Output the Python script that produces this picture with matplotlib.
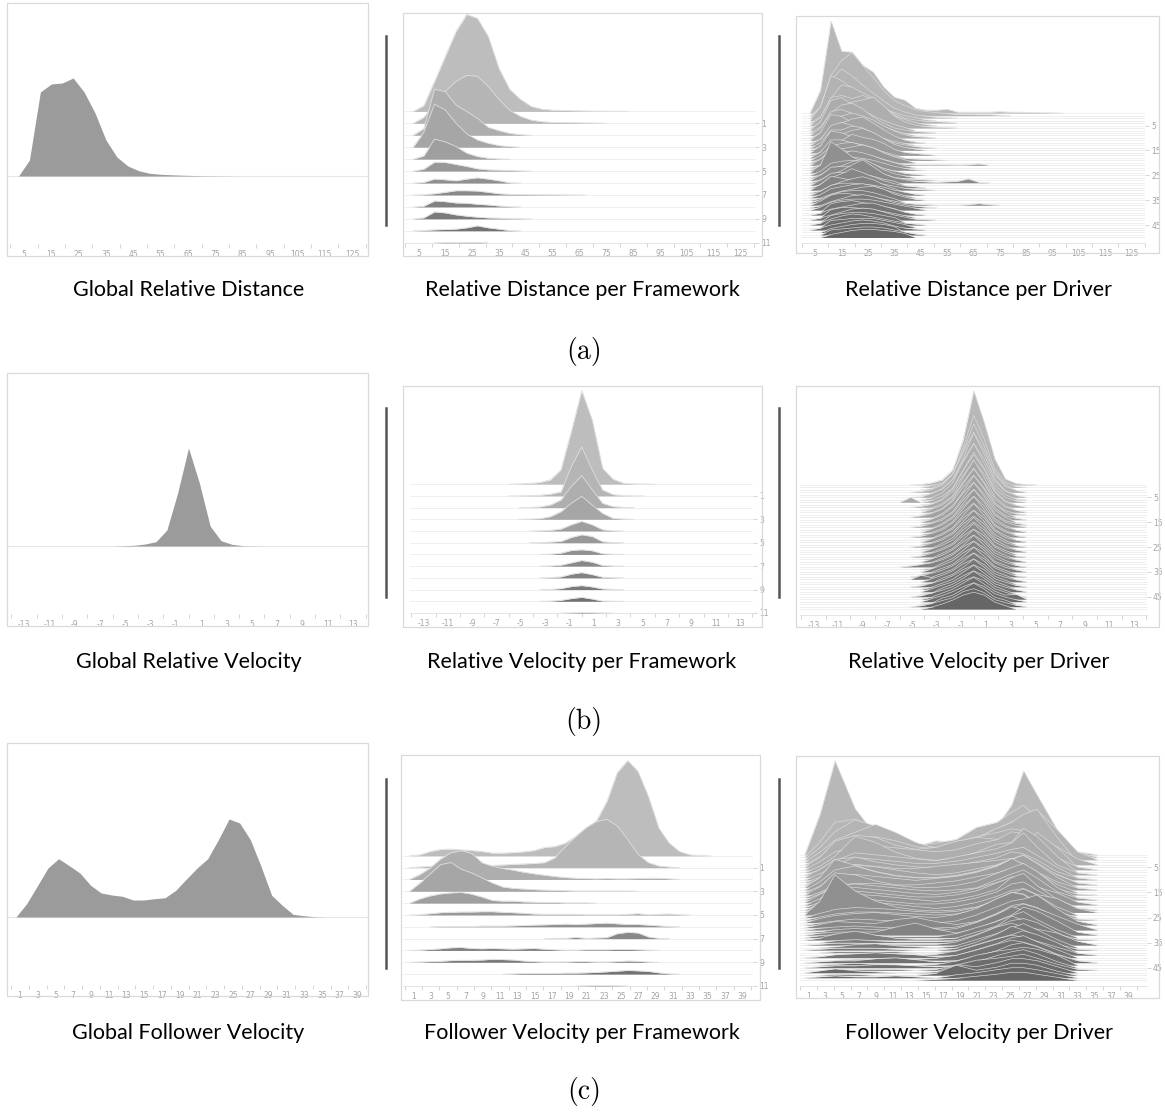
import numpy as np
import matplotlib.pyplot as plt
from matplotlib.patches import Rectangle
from matplotlib.lines import Line2D

# ---------------- data (densities, in image pixels) ----------------
dist_x = [3, 7, 11, 15, 19, 23, 27, 31, 35, 39, 43, 47, 51, 55, 59, 63, 67, 71, 75, 79, 83, 87, 91, 95, 99]
vel_x = [-6.0, -5.14, -4.29, -3.43, -2.57, -1.71, -0.86, 0.0, 0.86, 1.71, 2.57, 3.43, 4.29, 5.14, 6.0]
fol_x = [0.55, 1.75, 2.95, 4.15, 5.35, 6.55, 7.75, 8.95, 10.15, 11.35, 12.55, 13.75, 14.95, 16.15, 17.35,
         18.55, 19.75, 20.95, 22.15, 23.35, 24.55, 25.75, 26.95, 28.15, 29.35, 30.55, 31.75, 32.95, 34.15, 35.35]
fol_drv_x = [0.55, 2.35, 4.15, 6.55, 8.95, 11.35, 13.75, 16.15, 18.55, 20.95, 23.35, 25.15, 26.55, 28.15,
             30.55, 32.95, 35.35]

glob_dist = [0, 16, 84, 92, 93, 98, 84, 63, 36, 19, 10, 5.3, 2.7, 1.7, 1.2, 0.8, 0.5, 0.3, 0.2, 0.1, 0]
glob_vel = [0, 0.3, 0.7, 2, 4.3, 16, 53, 98, 63, 20, 5.3, 1.7, 0.3, 0.1, 0]
glob_fol = [0, 13.3, 31, 49, 58.3, 51.3, 44, 31.7, 24, 22, 20.7, 17, 17, 18.3, 19.3, 26.7, 38, 49, 58.3,
            77.3, 98, 94, 77.3, 50.7, 21.7, 11.7, 2.7, 1.3, 0.3, 0]

fw_dist = [
    [0, 5.7, 30, 55, 80, 97, 93, 75, 43, 22, 12, 5, 2.3, 1.3, 1, 0.7, 0.5, 0.3, 0.2, 0.1, 0],
    [0, 6, 20, 32, 42, 48, 47, 37, 24, 13, 7, 3.3, 1.7, 1, 0.8, 0.7, 0.5, 0.3, 0],
    [0, 6.7, 46, 43.7, 30.3, 23.7, 17, 8, 4.7, 2, 0.7, 0],
    [0, 15, 43, 37.3, 24, 13.3, 7.3, 4, 1.7, 0.7, 0],
    [0, 3.3, 20, 17.3, 12.7, 6, 2.7, 1, 0.3, 0],
    [0, 2, 9, 8.7, 6.7, 4.7, 2.3, 1.3, 1, 0.7, 0.3, 0],
    [0, 0.7, 4, 3.3, 2.3, 4, 5.3, 4, 2.3, 0.3, 0],
    [0, 0.3, 1.3, 2.7, 4.3, 4.3, 4, 2.7, 1.3, 0.7, 0.5, 0.4, 0.3, 0.3, 0.2, 0.1, 0],
    [0, 0.7, 6, 5.3, 4, 3.7, 2.7, 2, 1, 0.3, 0],
    [0, 1, 7, 6, 4, 2.7, 1.7, 1, 0.7, 0.3, 0.2, 0],
    [0, 0.3, 1, 1.3, 1.7, 3, 5, 3, 1.7, 0.3, 0],
    [0, 0, 0, 0.3, 0.2, 0.3, 0.3, 0],
]

fw_vel = [
    [0, 0.3, 0.7, 1.7, 4.3, 14.3, 52.7, 93.7, 64.3, 16, 5, 1, 0.3, 0.1, 0],
    [0, 0.1, 0.3, 0.7, 1.7, 4, 29, 49, 26, 6, 1.3, 0.3, 0.1, 0, 0],
    [0, 0, 0.3, 0.7, 2.7, 7.7, 21, 32, 18, 4.3, 1, 0.3, 0, 0, 0],
    [0, 0, 0.3, 0.7, 2.7, 7.7, 16, 23, 14.3, 6, 1, 0.3, 0, 0, 0],
    [0, 0, 0, 0.3, 0.7, 2, 6.3, 9.7, 6.3, 1.3, 0.3, 0, 0, 0, 0],
    [0, 0, 0, 0.2, 0.7, 1.3, 5.3, 8, 6.3, 1, 0.3, 0, 0, 0, 0],
    [0, 0, 0, 0, 0.3, 1.3, 4, 4.7, 3.7, 0.7, 0.2, 0, 0, 0, 0],
    [0, 0, 0, 0, 0.3, 1, 3.3, 5.7, 4, 0.7, 0.2, 0, 0, 0, 0],
    [0, 0, 0, 0, 0.3, 1, 3.7, 5.3, 3.3, 0.7, 0.2, 0, 0, 0, 0],
    [0, 0, 0, 0, 0.2, 1, 3, 4, 2.7, 0.7, 0.2, 0, 0, 0, 0],
    [0, 0, 0, 0, 0.2, 1, 2.7, 4, 2.3, 0.3, 0.1, 0, 0, 0, 0],
    [0, 0, 0, 0, 0, 0, 0.2, 0.4, 0.3, 0.1, 0, 0, 0, 0, 0],
]

fw_fol = [
    [0, 1, 4.3, 6.3, 6.7, 6, 5.3, 4.3, 2.7, 2.7, 3.3, 4, 5.3, 8.3, 9.3, 12.7, 19.3, 27.7, 35, 54.3, 83.3,
     95.3, 84.3, 59.3, 27.7, 12.7, 4.3, 1, 0.3, 0],
    [0, 0.7, 1.3, 1.7, 2, 2, 2, 2, 2.3, 2.7, 3.3, 3.7, 4.3, 5, 10, 20.7, 31, 40, 46, 48.3, 41.7, 28.3, 13.3,
     5, 1.7, 0.7, 0],
    [0, 5, 11.7, 20.7, 26.7, 28.7, 26, 16.7, 13.3, 11, 9.3, 7.3, 5.7, 4.3, 3, 2, 1.3, 1, 0.7, 1, 0.7, 0.7,
     1, 1.3, 1.3, 0.7, 0],
    [0, 8.3, 17.3, 26.7, 28.7, 22, 18.3, 13.3, 8.3, 4.3, 3, 2.3, 1.7, 1.3, 1, 0.7, 0.3, 0.3, 0.3, 0.3, 0.3,
     0.3, 0],
    [0, 4.3, 7.3, 9.3, 10.3, 10.7, 9, 6, 2.7, 2, 2, 1.3, 1, 0.7, 0.7, 0.3, 0.3, 0.3, 0],
    [0, 0.3, 1.3, 2.3, 2.7, 3, 3, 3.3, 3.3, 2.7, 2.3, 1.7, 1, 0.7, 0.7, 0.7, 0.7, 0.3, 0.3, 0.3, 0.3, 0.7,
     1.3, 0.3, 0.7, 1, 0.3, 0],
    [0, 0, 0, 0.3, 0.3, 0.3, 0.3, 0.7, 0.7, 0.7, 1, 1.3, 1.7, 2, 2.3, 2.7, 2.3, 2.7, 3.3, 3.7, 3, 2.3, 2.3,
     1.7, 1, 0.3, 0],
    [0, 0, 0, 0, 0, 0, 0, 0, 0, 0, 0, 0, 0, 0, 0.3, 0.3, 1.3, 0.3, 0.7, 1, 5, 6.3, 5.7, 1.7, 0.3, 0],
    [0, 0.3, 1, 1.7, 2.7, 3, 2, 1.7, 2, 1.7, 1.3, 1.7, 2, 1.3, 0.7, 0.3, 0.3, 0.7, 0.7, 0.7, 1, 1, 0.7,
     0.3, 0],
    [0, 0.3, 0.7, 1, 1.7, 2, 2, 2.3, 3, 2.7, 2.3, 1.3, 0.7, 0.3, 0.3, 0.3, 0.7, 0.7, 0.3, 0.3, 0.7, 1.3, 1,
     0.3, 0],
    [0, 0, 0, 0, 0, 0, 0, 0, 0, 0, 0.3, 0.7, 0.7, 0.7, 0.7, 1, 1, 1.3, 1.7, 2.3, 3, 3.7, 3.3, 2.7, 1.3,
     0.3, 0],
    [0, 0, 0, 0, 0, 0, 0, 0, 0, 0, 0, 0, 0, 0, 0, 0, 0, 0.2, 0.3, 0.3, 0.2, 0],
]

drv_dist = [
    [0, 23, 92, 62, 61, 48, 41, 26, 16, 13, 5, 3, 3, 4, 1, 1, 1, 1, 1.5, 1, 1, 0.7, 0.5, 0.3, 0],
    [0, 8, 40, 55, 63, 50, 38, 25, 15, 10, 6, 4, 3, 2, 1.5, 1.5, 1, 1, 0.5, 0],
    [0, 10, 38, 49, 42, 33, 25, 17, 10, 6, 3, 2, 1, 0.5, 0],
    [0, 14, 45, 40, 32, 25, 18, 12, 8, 5, 3, 1, 0],
    [0, 6, 25, 38, 36, 30, 25, 16, 9, 5, 3, 2, 1.5, 1, 0],
    [0, 8, 28, 30, 27, 30, 26, 18, 10, 6, 3, 1, 0],
    [0, 5, 18, 24, 26, 28, 31, 22, 12, 6, 3, 1.5, 1, 0.5, 0],
    [0, 9, 30, 33, 26, 20, 15, 10, 6, 3, 0],
    [0, 6, 20, 28, 30, 24, 16, 10, 5, 3, 1.5, 1, 0],
    [0, 7, 24, 26, 22, 18, 14, 9, 5, 2, 0],
    [0, 5, 16, 22, 25, 22, 18, 12, 7, 3, 1.5, 1, 0],
    [0, 8, 26, 24, 18, 14, 10, 6, 3, 0],
    [0, 4, 14, 20, 24, 26, 20, 13, 7, 3, 1, 0],
    [0, 6, 20, 23, 20, 15, 11, 7, 4, 2, 0],
    [0, 5, 18, 18, 22, 20, 15, 9, 5, 3, 1.5, 0.5, 0],
    [0, 4, 12, 16, 20, 22, 18, 12, 6, 3, 1.5, 0],
    [0, 7, 22, 20, 16, 12, 9, 6, 3, 0],
    [0, 3, 10, 15, 21, 18, 16, 12, 6, 3, 2, 1, 0],
    [0, 6, 18, 18, 15, 13, 10, 6, 3, 0],
    [0, 5, 14, 17, 18, 15, 11, 7, 4, 2, 1.5, 1, 0.5, 0],
    [0, 4, 12, 14, 16, 18, 15, 10, 6, 3, 0],
    [0, 6, 16, 15, 13, 11, 9, 6, 3, 1, 0.5, 0.5, 0.5, 0.5, 0.3, 0.5, 1.5, 0],
    [0, 3, 10, 14, 17, 15, 12, 8, 5, 2, 0],
    [0, 5, 14, 15, 13, 12, 10, 7, 4, 2, 0.5, 0],
    [0, 8, 31, 24, 16, 11, 7, 4, 2, 0],
    [0, 4, 12, 14, 15, 14, 11, 7, 4, 2, 1, 0],
    [0, 3, 9, 12, 16, 19, 14, 8, 4, 2, 0],
    [0, 5, 13, 14, 14, 12, 9, 6, 3, 1.5, 1, 0.5, 0],
    [0, 3, 8, 12, 18, 23, 16, 9, 5, 3, 1.5, 1, 0.5, 1, 1.5, 4, 0.5, 0],
    [0, 5, 12, 13, 12, 11, 9, 6, 4, 0],
    [0, 3, 10, 14, 19, 15, 11, 7, 4, 2, 1, 0],
    [0, 6, 14, 12, 10, 9, 8, 6, 4, 2, 1, 0.5, 0],
    [0, 2, 7, 11, 14, 16, 13, 8, 4, 0],
    [0, 4, 10, 12, 12, 11, 10, 8, 5, 3, 1, 0],
    [0, 3, 9, 11, 13, 14, 12, 8, 5, 2, 0],
    [0, 2, 6, 9, 11, 13, 14, 11, 6, 3, 1, 0],
    [0, 3, 8, 11, 12, 12, 10, 7, 4, 0],
    [0, 4, 10, 12, 11, 9, 8, 6, 4, 2, 1, 0.5, 0, 0, 0, 0.5, 1.5, 0.5, 0],
    [0, 2, 6, 9, 12, 13, 11, 8, 5, 3, 1.5, 0.5, 0],
    [0, 3, 8, 10, 11, 11, 10, 8, 6, 4, 2, 0],
    [0, 0, 9, 11, 12, 10, 8, 6, 4, 0],
    [0, 2, 6, 8, 10, 12, 12, 9, 6, 3, 1, 0],
    [0, 0, 8, 10, 10, 9, 8, 6, 4, 2, 0],
    [0, 2, 5, 8, 11, 12, 11, 8, 5, 3, 1, 0.5, 0],
    [0, 0, 7, 9, 10, 10, 9, 7, 5, 0],
    [0, 2, 6, 9, 11, 10, 8, 6, 4, 2, 1, 0],
    [0, 0, 7, 8, 9, 9, 9, 7, 5, 3, 0],
    [0, 2, 5, 7, 9, 10, 9, 7, 4, 2, 1, 0],
    [0, 0, 4, 6, 8, 9, 9, 8, 6, 0],
    [0, 0, 5, 6, 7, 8, 8, 7, 5, 3, 1, 0],
    [0, 0, 3, 5, 7, 8, 8, 7, 6, 4, 0],
]

drv_vel = [
    [0, 0, 0.5, 2, 5, 15, 45, 94, 62, 26, 6, 1.5, 0.5, 0, 0],
    [0, 0, 0, 2, 4, 12, 40, 72, 48, 18, 5, 1, 0, 0, 0],
    [0, 0, 0, 1.5, 6, 16, 38, 66, 44, 17, 5, 0, 0, 0, 0],
    [0, 0, 1, 3, 7, 18, 40, 60, 42, 18, 6, 2, 0, 0, 0],
    [0, 0, 0, 1, 6, 15, 36, 62, 40, 16, 4, 0, 0, 0, 0],
    [0, 0, 0.5, 4, 8, 18, 36, 54, 38, 16, 6, 2, 0, 0, 0],
    [0, 0, 0, 2, 7, 17, 38, 56, 36, 15, 5, 1, 0, 0, 0],
    [0, 5, 0, 2, 6, 14, 32, 50, 34, 14, 5, 1.5, 0, 0, 0],
    [0, 0, 0, 1, 6, 16, 34, 50, 35, 14, 4, 0, 0, 0, 0],
    [0, 0, 1, 3, 7, 16, 32, 46, 33, 15, 5, 2, 0, 0, 0],
    [0, 0, 0, 1.5, 6, 14, 32, 50, 32, 13, 4, 0, 0, 0, 0],
    [0, 0, 0, 3, 7, 15, 30, 44, 30, 13, 5, 2, 0, 0, 0],
    [0, 0, 0, 2, 6, 15, 31, 46, 31, 12, 4, 1, 0, 0, 0],
    [0, 0, 1.5, 3.5, 8, 16, 30, 42, 29, 13, 5, 0, 0, 0, 0],
    [0, 0, 0, 1, 6, 14, 28, 44, 30, 12, 4, 1.5, 0, 0, 0],
    [0, 0, 0, 3, 7, 15, 29, 40, 28, 12, 5, 0, 0, 0, 0],
    [0, 0, 0, 2, 6, 13, 27, 42, 28, 11, 4, 1.5, 0, 0, 0],
    [0, 0, 1, 3.5, 7, 14, 27, 38, 27, 12, 5, 2, 0, 0, 0],
    [0, 0, 0, 1, 6, 13, 26, 40, 27, 11, 4, 0, 0, 0, 0],
    [0, 0, 0, 3, 7, 14, 26, 36, 26, 11, 5, 2, 0, 0, 0],
    [0, 0, 0, 2, 6, 13, 26, 38, 25, 10, 4, 0, 0, 0, 0],
    [0, 0, 1, 3.5, 7, 14, 25, 34, 25, 11, 5, 1.5, 0, 0, 0],
    [0, 0, 0, 1, 6, 12, 24, 36, 24, 10, 4, 0, 0, 0, 0],
    [0, 0, 0, 3, 7, 13, 24, 32, 24, 11, 4.5, 2, 0, 0, 0],
    [0, 0, 0, 2, 6, 12, 23, 34, 23, 10, 4, 0, 0, 0, 0],
    [0, 0, 1, 3.5, 7, 13, 23, 31, 23, 10, 4.5, 1.5, 0, 0, 0],
    [0, 0, 0, 1, 6, 12, 22, 32, 22, 10, 4, 0, 0, 0, 0],
    [0, 0, 0, 3, 6.5, 12, 22, 30, 22, 10, 4.5, 2, 0, 0, 0],
    [0, 0, 0, 2, 6, 11, 21, 31, 21, 9, 4, 0, 0, 0, 0],
    [0, 0, 1, 3.5, 7, 12, 21, 28, 21, 10, 4.5, 1, 0, 0, 0],
    [0, 0, 0, 1, 6, 11, 20, 30, 20, 9, 4, 0, 0, 0, 0],
    [0, 0, 0, 3, 6.5, 12, 20, 27, 20, 9, 4.5, 2, 0, 0, 0],
    [0, 0, 0, 2, 6, 11, 19, 29, 19, 9, 4, 0, 0, 0, 0],
    [0, 1, 2.5, 4, 7, 12, 20, 26, 19, 9, 4.5, 1.5, 0, 0, 0],
    [0, 0, 0, 1, 6, 11, 19, 28, 19, 8, 4, 0, 0, 0, 0],
    [0, 0, 0, 3, 6.5, 11, 19, 25, 19, 9, 4.5, 2, 0, 0, 0],
    [0, 0, 0, 2, 6, 10, 18, 27, 18, 8, 4, 0, 0, 0, 0],
    [0, 0, 1, 3.5, 6.5, 11, 18, 24, 18, 9, 4.5, 1, 0, 0, 0],
    [0, 0, 4, 2, 6, 10, 18, 26, 18, 8, 4, 0, 0, 0, 0],
    [0, 0, 0, 3, 6.5, 11, 18, 23, 17, 8, 4.5, 2, 0, 0, 0],
    [0, 0, 0, 1, 6, 10, 17, 25, 17, 8, 4, 0, 0, 0, 0],
    [0, 0, 1, 3.5, 6.5, 11, 17, 22, 17, 8, 4.5, 1.5, 0, 0, 0],
    [0, 0, 0, 2, 6, 10, 17, 24, 16, 8, 4, 0, 0, 0, 0],
    [0, 0, 0, 3, 6.5, 10, 16, 21, 16, 8, 4.5, 2, 0, 0, 0],
    [0, 0, 0, 1, 6, 10, 16, 23, 16, 8, 4, 0, 0, 0, 0],
    [0, 0, 1, 3.5, 6.5, 10, 16, 20, 16, 8, 4.5, 1, 0, 0, 0],
    [0, 0, 0, 2, 6, 10, 16, 22, 15, 8, 4, 5, 0, 0, 0],
    [0, 0, 0, 3, 6, 10, 15, 19, 15, 8, 4.5, 2, 0, 0, 0],
    [0, 0, 0, 1, 6, 9, 15, 21, 15, 7, 4, 0, 0, 0, 0],
    [0, 0, 1, 3, 6, 9, 15, 18, 14, 7, 4, 1.5, 0, 0, 0],
    [0, 0, 0, 2, 5, 9, 14, 17, 14, 7, 3.5, 0, 0, 0, 0],
]

drv_fol = [
    [0, 40, 94, 46, 20, 10, 8, 14, 12, 25, 28, 50, 84, 60, 25, 3, 0],
    [0, 15, 35, 38, 28, 18, 12, 14, 18, 30, 35, 45, 52, 40, 20, 5, 0],
    [0, 12, 28, 40, 34, 24, 16, 12, 14, 22, 30, 38, 40, 50, 30, 8, 0],
    [0, 10, 22, 30, 38, 30, 20, 14, 16, 24, 34, 40, 48, 53, 25, 0, 0],
    [0, 8, 20, 26, 28, 24, 18, 16, 22, 28, 32, 36, 34, 28, 18, 6, 0],
    [0, 10, 26, 32, 30, 22, 18, 20, 26, 30, 28, 24, 20, 35, 20, 0, 0],
    [0, 8, 18, 22, 24, 22, 20, 18, 20, 26, 30, 38, 36, 24, 12, 3, 0],
    [0, 6, 16, 36, 30, 20, 14, 12, 14, 20, 28, 30, 44, 36, 16, 0, 0],
    [0, 5, 14, 22, 20, 18, 16, 14, 18, 22, 26, 32, 42, 28, 10, 2, 0],
    [0, 8, 18, 20, 18, 16, 14, 14, 16, 20, 24, 28, 30, 22, 10, 0, 0],
    [0, 6, 14, 23, 18, 15, 13, 12, 14, 18, 22, 28, 26, 20, 8, 2, 0],
    [0, 5, 12, 18, 16, 14, 14, 16, 18, 20, 22, 24, 22, 16, 8, 0, 0],
    [0, 6, 16, 20, 18, 15, 12, 10, 12, 16, 20, 26, 30, 22, 10, 2, 0],
    [0, 10, 28, 22, 16, 12, 10, 10, 12, 16, 22, 28, 32, 24, 10, 0, 0],
    [0, 8, 20, 24, 18, 14, 12, 12, 14, 18, 24, 30, 26, 18, 8, 2, 0],
    [0, 6, 16, 18, 16, 14, 12, 14, 16, 20, 26, 34, 28, 20, 8, 0, 0],
    [0, 8, 22, 20, 14, 10, 10, 12, 14, 18, 22, 26, 24, 16, 6, 1, 0],
    [0, 5, 12, 14, 14, 12, 10, 10, 12, 16, 24, 30, 34, 26, 10, 0, 0],
    [0, 6, 14, 16, 14, 12, 10, 9, 10, 12, 20, 26, 30, 22, 8, 2, 0],
    [0, 8, 16, 15, 13, 11, 9, 8, 10, 14, 20, 24, 22, 16, 6, 0, 0],
    [0, 6, 14, 14, 12, 10, 8, 8, 10, 14, 22, 28, 26, 18, 12, 3, 0],
    [0, 5, 12, 13, 12, 10, 8, 6, 8, 12, 18, 30, 34, 22, 8, 0, 0],
    [0, 6, 13, 12, 10, 8, 6, 6, 8, 12, 18, 26, 28, 20, 8, 2, 0],
    [0, 8, 14, 12, 10, 8, 6, 4, 6, 10, 16, 22, 24, 18, 14, 4, 0],
    [0, 14, 40, 24, 14, 8, 5, 4, 5, 8, 14, 22, 26, 20, 8, 0, 0],
    [0, 4, 8, 10, 9, 8, 6, 5, 6, 10, 18, 24, 22, 16, 6, 0, 0],
    [0, 3, 6, 8, 8, 7, 6, 5, 6, 10, 20, 28, 26, 18, 6, 1, 0],
    [0, 4, 7, 9, 10, 8, 6, 5, 8, 14, 24, 30, 28, 18, 8, 0, 0],
    [0, 2, 4, 6, 5, 4, 3, 2, 4, 10, 18, 24, 26, 30, 16, 4, 0],
    [0, 3, 6, 5, 4, 8, 10, 6, 3, 6, 14, 22, 24, 20, 10, 0, 0],
    [0, 2, 3, 4, 3, 2, 2, 2, 3, 8, 16, 22, 26, 22, 14, 6, 0],
    [0, 1, 3, 4, 3, 2, 2, 2, 4, 10, 18, 26, 22, 14, 6, 0, 0],
    [0, 2, 3, 3, 3, 8, 12, 6, 2, 6, 14, 20, 28, 24, 14, 3, 0],
    [0, 2, 3, 3, 2, 1, 1, 1, 4, 10, 16, 22, 26, 18, 8, 0, 0],
    [0, 2, 6, 9, 5, 2, 1, 1, 2, 8, 14, 24, 20, 14, 6, 1, 0],
    [0, 0, 2, 3, 2, 1, 1, 1, 2, 8, 16, 22, 24, 20, 10, 0, 0],
    [0, 1, 2, 2, 1, 1, 1, 1, 3, 10, 18, 22, 18, 16, 12, 4, 0],
    [0, 0, 1, 3, 4, 2, 1, 0, 2, 8, 14, 20, 24, 18, 8, 0, 0],
    [0, 1, 2, 2, 2, 1, 0, 0, 2, 8, 16, 24, 20, 14, 6, 1, 0],
    [0, 0, 1, 1, 1, 1, 0, 0, 2, 8, 14, 18, 22, 18, 10, 0, 0],
    [0, 0, 0, 1, 1, 0, 0, 1, 4, 10, 16, 20, 18, 14, 8, 2, 0],
    [0, 1, 3, 4, 5, 4, 3, 1, 2, 8, 14, 20, 22, 16, 8, 0, 0],
    [0, 0, 0, 1, 1, 1, 1, 2, 5, 10, 16, 20, 18, 14, 6, 0, 0],
    [0, 1, 2, 2, 4, 5, 3, 1, 2, 6, 12, 18, 20, 16, 8, 2, 0],
    [0, 0, 1, 2, 1, 0, 0, 1, 4, 10, 14, 16, 18, 16, 10, 0, 0],
    [0, 1, 2, 2, 3, 3, 2, 1, 2, 6, 12, 16, 18, 14, 6, 0, 0],
    [0, 0, 0, 1, 1, 1, 0, 1, 5, 10, 12, 14, 16, 12, 6, 1, 0],
    [0, 2, 4, 2, 1, 0, 0, 1, 8, 6, 10, 14, 14, 12, 6, 0, 0],
    [0, 0, 1, 1, 0, 0, 0, 2, 10, 5, 8, 12, 12, 10, 4, 0, 0],
    [0, 1, 2, 1, 1, 2, 1, 0, 3, 5, 8, 10, 10, 8, 4, 0, 0],
    [0, 0, 0, 0, 0, 0, 0, 1, 2, 4, 6, 8, 8, 6, 3, 0, 0],
]

captions = [["Global Relative Distance", "Relative Distance per Framework", "Relative Distance per Driver"],
            ["Global Relative Velocity", "Relative Velocity per Framework", "Relative Velocity per Driver"],
            ["Global Follower Velocity", "Follower Velocity per Framework", "Follower Velocity per Driver"]]
subcaps = ["(a)", "(b)", "(c)"]

dist_edges = list(range(0, 131, 10))
dist_centers = list(range(5, 126, 10))
vel_edges = list(range(-14, 15, 2))
vel_centers = list(range(-13, 14, 2))
fol_edges = list(range(0, 41, 2))
fol_centers = list(range(1, 40, 2))

# ---------------- figure ----------------
W, H = 1165, 1112
fig = plt.figure(figsize=(W / 100, H / 100), dpi=100)
TICK_C = '#cfcfcf'
LAB_C = '#a3a3a3'


def px_axes(l, t, r, b):
    ax = fig.add_axes([l / W, 1 - b / H, (r - l) / W, (b - t) / H])
    ax.set_ylim(0, b - t)
    ax.patch.set_visible(False)
    for sp in ax.spines.values():
        sp.set_visible(False)
    ax.set_yticks([])
    return ax


def box(l, t, r, b):
    fig.add_artist(Rectangle((l / W, 1 - b / H), (r - l) / W, (b - t) / H, transform=fig.transFigure,
                             fill=False, ec='#d9d9d9', lw=0.9))


def bar(x, t, b):
    fig.add_artist(Line2D([x / W, x / W], [1 - t / H, 1 - b / H], transform=fig.transFigure,
                          color='#555555', lw=1.8))


def x_axis(ax, l, r, x0px, s, edges, centers, line):
    ax.set_xlim((l - x0px) / s, (r - x0px) / s)
    ax.set_xticks(edges)
    ax.set_xticklabels([])
    ax.set_xticks(centers, minor=True)
    ax.set_xticklabels([str(c) for c in centers], minor=True)
    ax.tick_params(axis='x', which='major', length=3, width=0.6, color=TICK_C)
    ax.tick_params(axis='x', which='minor', length=0, labelsize=5.5, labelcolor=LAB_C, pad=4.2)
    if line:
        ax.spines['bottom'].set_visible(True)
        ax.spines['bottom'].set_color('#e0e0e0')
        ax.spines['bottom'].set_linewidth(0.6)


def global_panel(ax, xs, ys, base_px, bottom):
    yb = bottom - base_px
    ax.axhline(yb, color='#e6e6e6', lw=0.8, zorder=1)
    ax.fill_between(xs[:len(ys)], yb, yb + np.asarray(ys, float), color='#9b9b9b', lw=0, zorder=2)


def ridge_panel(ax, xs, rows, first, step, bottom, c0, c1, lab_idx, ecol, elw):
    cols = np.linspace(c0, c1, len(rows))
    for i, h in enumerate(rows):
        yb = bottom - (first + i * step)
        ax.axhline(yb, color='#ececec', lw=0.6, zorder=2 * i)
        h = np.asarray(h, float)
        nz = np.nonzero(h)[0]
        if len(nz) == 0:
            continue
        a, b = max(nz[0] - 1, 0), min(nz[-1] + 2, len(h))
        x = np.asarray(xs[:len(h)], float)[a:b]
        top = yb + h[a:b]
        ax.fill_between(x, yb, top, color=str(cols[i]), lw=0, zorder=2 * i + 1)
        ax.plot(x, top, color=ecol, lw=elw, zorder=2 * i + 1)
    ax.yaxis.tick_right()
    ax.set_yticks([bottom - (first + i * step) for i in lab_idx])
    ax.set_yticklabels([str(i) for i in lab_idx])
    ax.tick_params(axis='y', length=3, width=0.6, color=TICK_C, labelsize=5.5, labelcolor=LAB_C, pad=1.5)


fw_labels = [1, 3, 5, 7, 9, 11]
drv_labels = [5, 15, 25, 35, 45]

# row (a) relative distance
box(7, 3, 368, 256)
ax = px_axes(7, 3, 368, 244)
x_axis(ax, 7, 368, 10.3, 2.733, dist_edges, dist_centers, False)
global_panel(ax, dist_x, glob_dist, 176, 244)

box(403, 13, 762, 256)
ax = px_axes(405, 13, 755, 243)
x_axis(ax, 405, 755, 404.9, 2.686, dist_edges, dist_centers, True)
ridge_panel(ax, dist_x, fw_dist, 111.4, 11.94, 243, 0.74, 0.42, fw_labels, '#dedede', 0.6)

box(796, 16, 1159, 253)
ax = px_axes(802, 16, 1145, 242.7)
x_axis(ax, 802, 1145, 801.8, 2.639, dist_edges, dist_centers, True)
ridge_panel(ax, dist_x, drv_dist, 113.1, 2.4875, 242.7, 0.72, 0.40, drv_labels, '#dcdcdc', 0.45)

# row (b) relative velocity
box(7, 373, 368, 626)
ax = px_axes(7, 373, 368, 614)
x_axis(ax, 7, 368, 188.5, 12.65, vel_edges, vel_centers, False)
global_panel(ax, vel_x, glob_vel, 546, 614)

box(403, 386, 762, 627)
ax = px_axes(410, 386, 753, 613)
x_axis(ax, 410, 753, 581.7, 12.18, vel_edges, vel_centers, True)
ridge_panel(ax, vel_x, fw_vel, 484.3, 11.73, 613, 0.74, 0.42, fw_labels, '#dedede', 0.6)

box(796, 386, 1159, 627)
ax = px_axes(800, 386, 1146.7, 615)
x_axis(ax, 800, 1146.7, 973.7, 12.33, vel_edges, vel_centers, True)
ridge_panel(ax, vel_x, drv_vel, 484.9, 2.485, 615, 0.72, 0.40, drv_labels, '#dcdcdc', 0.45)

# row (c) follower velocity
box(7, 743, 368, 996)
ax = px_axes(7, 743, 368, 985)
x_axis(ax, 7, 368, 11.1, 8.877, fol_edges, fol_centers, False)
global_panel(ax, fol_x, glob_fol, 917, 985)

box(401, 755, 760, 1000)
ax = px_axes(403, 755, 753, 986)
x_axis(ax, 403, 753, 404.7, 8.658, fol_edges, fol_centers, True)
ridge_panel(ax, fol_x, fw_fol, 855.8, 11.83, 986, 0.74, 0.42, fw_labels, '#dedede', 0.6)

box(796, 756, 1159, 998)
ax = px_axes(800, 756, 1146.7, 986)
x_axis(ax, 800, 1146.7, 799.9, 8.42, fol_edges, fol_centers, True)
ridge_panel(ax, fol_drv_x, drv_fol, 854.75, 2.51, 986, 0.72, 0.40, drv_labels, '#dcdcdc', 0.45)

# separators
for t, b in [(36, 225), (408, 597), (779, 968)]:
    bar(385.7, t, b)
    bar(779.3, t, b)

# captions
cap_x = [188.5, 582, 979]
cap_y = [290, 662, 1033]
sub_y = [352, 722, 1092]
for r in range(3):
    for c in range(3):
        fig.text(cap_x[c] / W, 1 - cap_y[r] / H, captions[r][c], ha='center', va='center',
                 fontsize=15.5, family='Lato', color='black')
    fig.text(584 / W, 1 - sub_y[r] / H, subcaps[r], ha='center', va='center', fontsize=20, family='cmr10')

fig.savefig('out.png', dpi=100)
